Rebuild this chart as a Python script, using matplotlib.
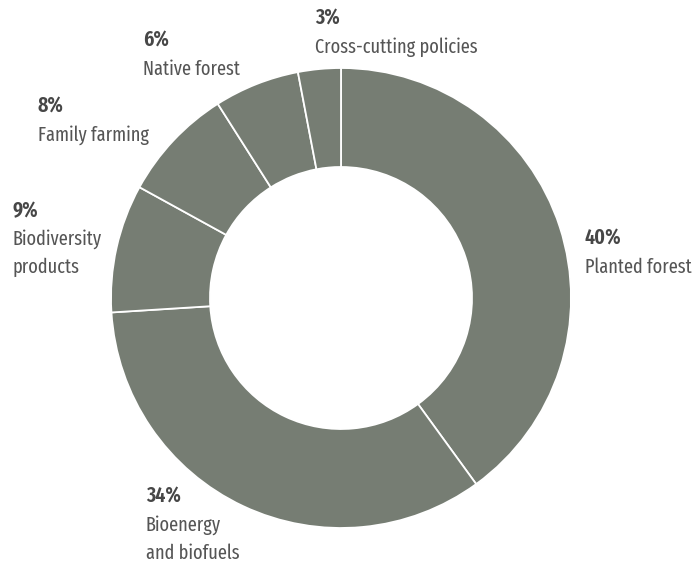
import matplotlib
matplotlib.use("Agg")
import matplotlib.pyplot as plt

categories = ["Planted forest", "Bioenergy\nand biofuels", "Biodiversity\nproducts",
              "Family farming", "Native forest", "Cross-cutting policies"]
values = [40, 34, 9, 8, 6, 3]
pct_labels = ["40%", "34%", "9%", "8%", "6%", "3%"]

W, H = 694, 564
fig = plt.figure(figsize=(W / 100, H / 100), dpi=100)
ax = fig.add_axes([0, 0, 1, 1])

cx, cy = 341, H - 298
R = 230
ring = 99
ax.pie(values, startangle=90, counterclock=False, center=(cx, cy), radius=R,
       colors=["#767d73"] * len(values),
       wedgeprops=dict(width=ring, edgecolor="white", linewidth=1.3),
       frame=True)
ax.set_xlim(0, W)
ax.set_ylim(0, H)
ax.set_aspect("equal")
ax.axis("off")

fam = ["Fira Sans Extra Condensed", "Roboto Condensed", "DejaVu Sans"]
tc = "#555555"
# label anchor: left x and baseline of the percentage (pixels from top)
pos = [(585, 245), (146, 503), (13, 217), (38, 113), (143, 47), (315, 25)]
gap = 28
for (x, y), p, c in zip(pos, pct_labels, categories):
    ax.text(x, H - y, p, fontsize=15.5, fontweight="semibold", color="#474747", family=fam,
            ha="left", va="baseline")
    for i, line in enumerate(c.split("\n")):
        ax.text(x, H - y - gap * (i + 1), line, fontsize=14.3, color=tc, family=fam,
                ha="left", va="baseline")

fig.savefig("out.png", dpi=100)
